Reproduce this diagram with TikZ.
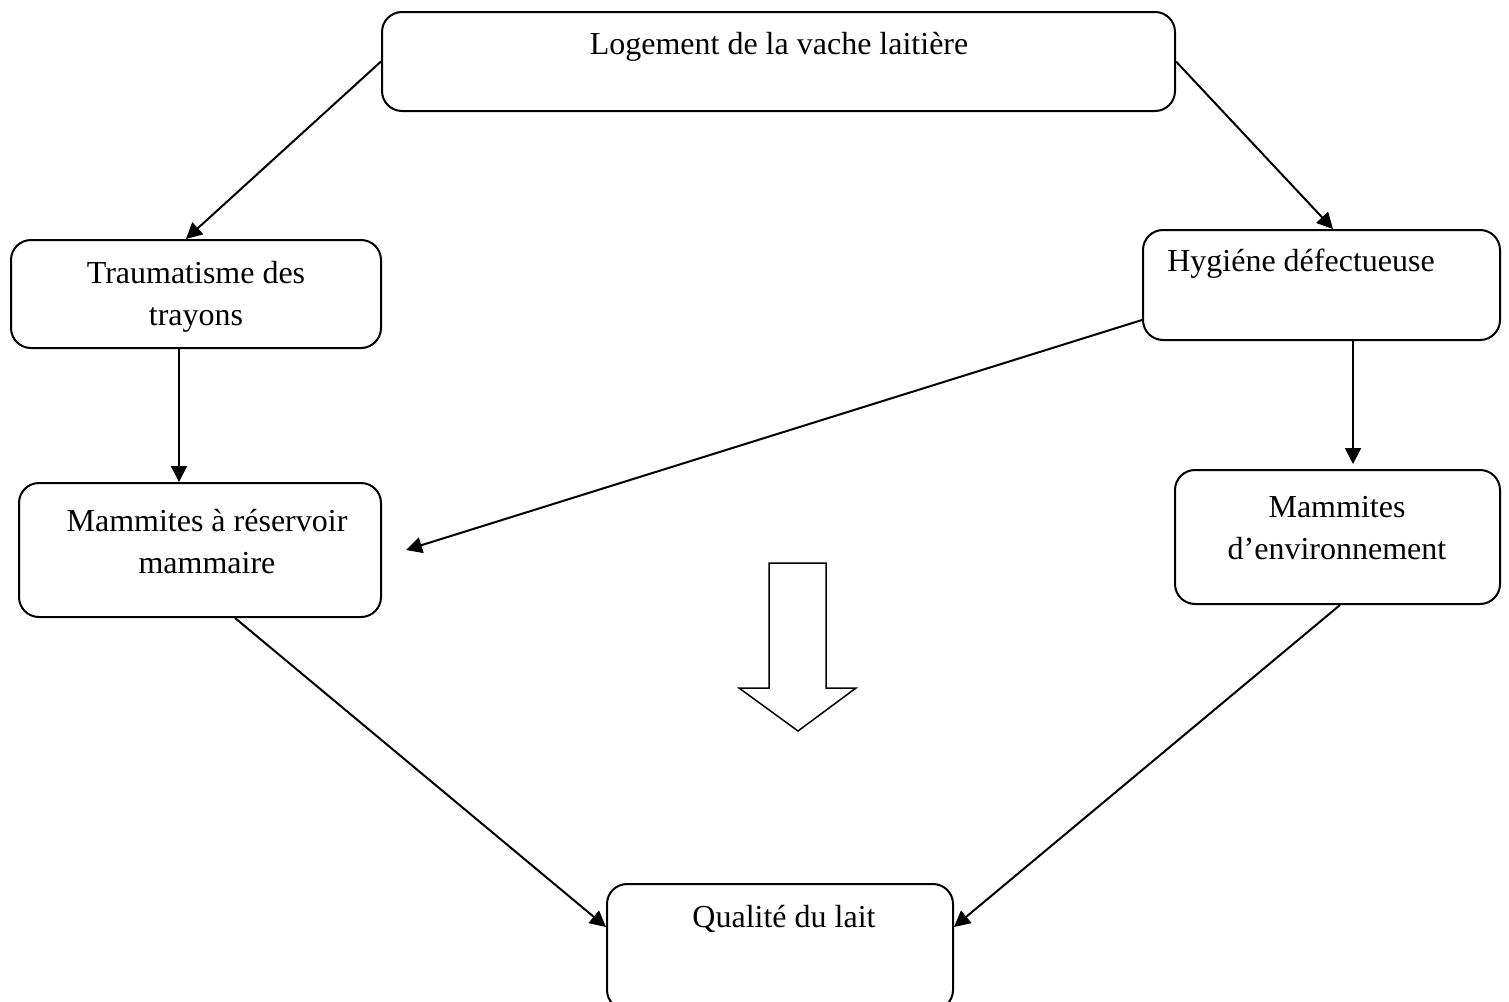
\documentclass[tikz,border=0pt]{standalone}
\usepackage{fontspec}
\setmainfont{Liberation Serif}
\usetikzlibrary{arrows.meta,calc}
\begin{document}
\begin{tikzpicture}[x=0.5pt,y=-0.5pt,
  box/.style={draw,line width=1pt,rounded corners=10pt,inner sep=0pt},
  lbl/.style={font=\fontsize{16}{21}\selectfont,align=center,inner sep=0pt},
  con/.style={line width=1pt,-{Triangle[length=8pt,width=8pt]}}]
\useasboundingbox (0,0) rectangle (1509,1001);
\clip (0,0) rectangle (1509,1001);
% boxes
\node[box,minimum width=396.5pt,minimum height=49.5pt] (top) at (778.5,61.5) {};
\node[box,minimum width=185pt,minimum height=54pt] (trauma) at (196,294) {};
\node[box,minimum width=178.5pt,minimum height=55pt] (hyg) at (1321.5,285) {};
\node[box,minimum width=181pt,minimum height=67pt] (res) at (200,550) {};
\node[box,minimum width=162.5pt,minimum height=67pt] (env) at (1337.5,537) {};
\node[box,minimum width=173pt,minimum height=63pt] (qual) at (780,947) {};
% labels
\node[lbl] (ttop) at (779,47) {Logement de la vache laitière};
\node[lbl] (ttrauma) at (196,297) {Traumatisme des\\trayons};
\node[lbl] (thyg) at (1301,264) {Hygiéne défectueuse};
\node[lbl] (tres) at (207,542) {Mammites à réservoir\\mammaire};
\node[lbl] (tenv) at (1337,528) {Mammites\\d’environnement};
\node[lbl] (tqual) at (784,919) {Qualité du lait};
% connectors
\coordinate (resend) at ([xshift=12pt]res.east);
\draw[con] (top.west) -- ([xshift=-5pt]trauma.north);
\draw[con] (top.east) -- ([xshift=5.75pt]hyg.north);
\draw[con] ([xshift=-8.5pt]trauma.south) -- ([xshift=-10.5pt]res.north);
\draw[con] ([yshift=-17.5pt]hyg.west) -- (resend);
\draw[con] ([xshift=15.75pt]hyg.south) -- ([xshift=7.75pt,yshift=2.5pt]env.north);
\draw[con] ([xshift=17.5pt]res.south) -- ([yshift=10pt]qual.west);
\draw[con] ([xshift=1.25pt]env.south) -- ([yshift=10pt]qual.east);
% hollow block arrow
\draw[line width=0.75pt,fill=white] (769,688) -- (769,563) -- (826,563) -- (826,688) -- (856,688) -- (798,731) -- (739,688) -- cycle;
\end{tikzpicture}
\end{document}
